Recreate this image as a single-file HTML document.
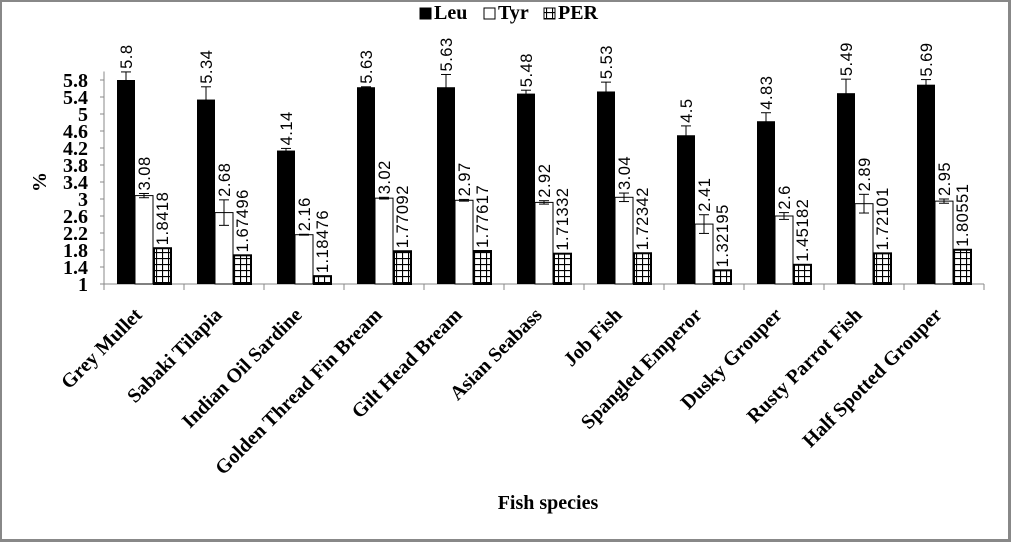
<!DOCTYPE html>
<html><head><meta charset="utf-8"><style>
html,body{margin:0;padding:0;background:#fff}
#wrap{position:relative;width:1011px;height:542px;box-sizing:border-box;border:2px solid #888;border-right-width:3px;border-bottom-width:3px}
svg{position:absolute;left:-2px;top:-2px}
</style></head><body>
<div id="wrap">
<svg id="chart" width="1011" height="542">
<defs>
<pattern id="grid" width="6" height="6" patternUnits="userSpaceOnUse"><rect width="6" height="6" fill="#fff"/><path d="M0 0.5H6M0.5 0V6" stroke="#000" stroke-width="1.2"/></pattern>
</defs>
</svg>
</div>
<script>
const categories=["Grey Mullet","Sabaki Tilapia","Indian Oil Sardine","Golden Thread Fin Bream","Gilt Head Bream","Asian Seabass","Job Fish","Spangled Emperor","Dusky Grouper","Rusty  Parrot  Fish","Half Spotted Grouper"];
const leu=[5.8,5.34,4.14,5.63,5.63,5.48,5.53,4.5,4.83,5.49,5.69];
const tyr=[3.08,2.68,2.16,3.02,2.97,2.92,3.04,2.41,2.6,2.89,2.95];
const per=[1.8418,1.67496,1.18476,1.77092,1.77617,1.71332,1.72342,1.32195,1.45182,1.72101,1.80551];
const leuErr=[0.19,0.3,0.05,0.01,0.3,0.08,0.22,0.22,0.2,0.33,0.12];
const tyrErr=[0.05,0.3,0.01,0.02,0.02,0.04,0.1,0.22,0.08,0.22,0.05];
const yTicks=[1,1.4,1.8,2.2,2.6,3,3.4,3.8,4.2,4.6,5,5.4,5.8];
const leuLabels=["5.8","5.34","4.14","5.63","5.63","5.48","5.53","4.5","4.83","5.49","5.69"];
const tyrLabels=["3.08","2.68","2.16","3.02","2.97","2.92","3.04","2.41","2.6","2.89","2.95"];
const perLabels=["1.8418","1.67496","1.18476","1.77092","1.77617","1.71332","1.72342","1.32195","1.45182","1.72101","1.80551"];

const svg=document.getElementById('chart');
const NS='http://www.w3.org/2000/svg';
const X0=104,CW=80,Y0=284,PPU=42.5,YMAX=6;
const y=v=>Y0-(v-1)*PPU;
const xc=i=>X0+i*CW;
function mk(tag,attrs,parent){const e=document.createElementNS(NS,tag);for(const k in attrs)e.setAttribute(k,attrs[k]);(parent||svg).appendChild(e);return e;}

let ax=mk('line',{x1:X0,y1:y(YMAX),x2:X0,y2:Y0,stroke:'#888','stroke-width':1});


let bx=mk('line',{x1:X0,y1:Y0,x2:X0+CW*categories.length,y2:Y0,stroke:'#888','stroke-width':1});


yTicks.forEach(t=>{
  mk('line',{x1:X0-4,y1:y(t),x2:X0,y2:y(t),stroke:'#888'});
  const tx=mk('text',{x:88,y:y(t)+7,'text-anchor':'end','font-family':'Liberation Serif, serif','font-weight':'bold','font-size':'20'});
  tx.textContent=t;
  
  
});
for(let i=0;i<=categories.length;i++) mk('line',{x1:xc(i),y1:Y0,x2:xc(i),y2:Y0+6,stroke:'#888'});

function errbar(cx,v,e){
  if(e<=0)return;
  mk('line',{x1:cx,y1:y(v+e),x2:cx,y2:y(v-e),stroke:'#000','stroke-width':1});
  mk('line',{x1:cx-5,y1:y(v+e),x2:cx+5,y2:y(v+e),stroke:'#000','stroke-width':1});
  mk('line',{x1:cx-5,y1:y(v-e),x2:cx+5,y2:y(v-e),stroke:'#000','stroke-width':1});
}
function label(cx,ytop,txt){
  const t=mk('text',{x:0,y:0,transform:`translate(${cx+6},${ytop-3}) rotate(-90)`,'font-family':'Liberation Sans, sans-serif','font-size':'16.5','letter-spacing':'0.5'});
  t.textContent=txt;
  
  
}
categories.forEach((c,i)=>{
  const b=xc(i)+13,w=18;
  let r=mk('rect',{x:b,y:y(leu[i]),width:w,height:Y0-y(leu[i]),fill:'#000'});
  
  
  errbar(b+w/2,leu[i],leuErr[i]);
  label(b+w/2,y(leu[i]+leuErr[i]),leuLabels[i]);
  r=mk('rect',{x:b+w,y:y(tyr[i]),width:w,height:Y0-y(tyr[i]),fill:'#fff',stroke:'#000','stroke-width':1});
  
  
  errbar(b+w*1.5,tyr[i],tyrErr[i]);
  label(b+w*1.5,y(tyr[i]+tyrErr[i]),tyrLabels[i]);
  r=mk('rect',{x:b+2*w+1,y:y(per[i]),width:w-1,height:Y0-y(per[i]),fill:'url(#grid)',stroke:'#000','stroke-width':2});
  
  
  label(b+w*2.5,y(per[i]),perLabels[i]);
  const t=mk('text',{x:0,y:0,transform:`translate(${xc(i)+CW/2-1},${Y0+32}) rotate(-45)`,'text-anchor':'end','font-family':'Liberation Serif, serif','font-weight':'bold','font-size':'20'});
  t.textContent=c;
  
  
});
let yt=mk('text',{x:0,y:0,transform:'translate(46,182) rotate(-90)','text-anchor':'middle','font-family':'Liberation Serif, serif','font-weight':'bold','font-size':'20'});
yt.textContent='%';


let xt=mk('text',{x:548,y:509,'text-anchor':'middle','font-family':'Liberation Serif, serif','font-weight':'bold','font-size':'20'});
xt.textContent='Fish species';


const lg=mk('g',{});


const leg=[["Leu",420,'#000'],["Tyr",484,'#fff'],["PER",544,'url(#grid)']];
leg.forEach(l=>{
  const g=mk('g',{},lg);
  
  
  mk('rect',{x:l[1],y:8,width:11,height:11,fill:l[2],stroke:'#000','stroke-width':1},g);
  const t=mk('text',{x:l[1]+14,y:19,'font-family':'Liberation Serif, serif','font-weight':'bold','font-size':'20'},g);
  t.textContent=l[0];
});
</script>
</body></html>
